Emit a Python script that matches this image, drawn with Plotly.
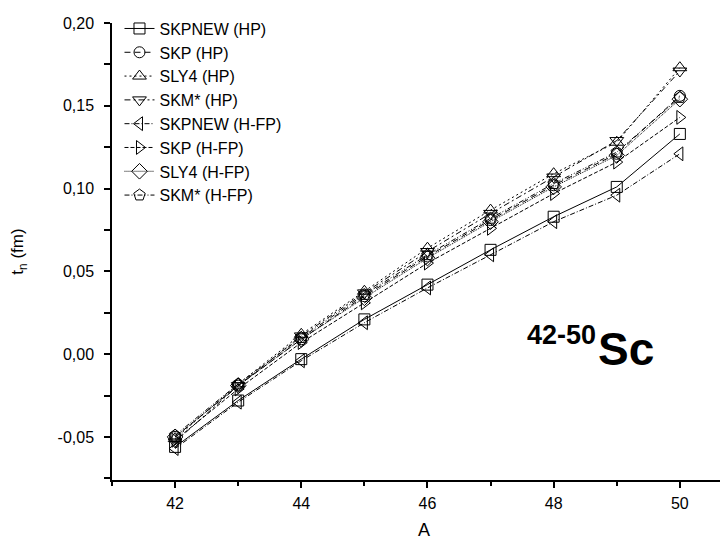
import plotly.graph_objects as go

A = [42, 43, 44, 45, 46, 47, 48, 49, 50]

skpnew_hp = [-0.056, -0.028, -0.003, 0.021, 0.042, 0.063, 0.083, 0.101, 0.133]
skp_hp = [-0.050, -0.019, 0.009, 0.035, 0.059, 0.081, 0.102, 0.121, 0.156]
sly4_hp = [-0.051, -0.018, 0.012, 0.038, 0.064, 0.087, 0.109, 0.128, 0.173]
skm_hp = [-0.053, -0.019, 0.011, 0.037, 0.062, 0.085, 0.107, 0.129, 0.171]
skpnew_hfp = [-0.057, -0.029, -0.004, 0.019, 0.040, 0.060, 0.080, 0.096, 0.121]
skp_hfp = [-0.052, -0.021, 0.007, 0.031, 0.055, 0.076, 0.097, 0.116, 0.143]
sly4_hfp = [-0.050, -0.019, 0.009, 0.034, 0.058, 0.080, 0.101, 0.120, 0.154]
skm_hfp = [-0.049, -0.018, 0.010, 0.036, 0.060, 0.082, 0.103, 0.122, 0.155]

series_names = ["SKPNEW (HP)", "SKP (HP)", "SLY4 (HP)", "SKM* (HP)",
                "SKPNEW (H-FP)", "SKP (H-FP)", "SLY4 (H-FP)", "SKM* (H-FP)"]
series_values = [skpnew_hp, skp_hp, sly4_hp, skm_hp,
                 skpnew_hfp, skp_hfp, sly4_hfp, skm_hfp]

y_tickvals = [-0.05, 0.00, 0.05, 0.10, 0.15, 0.20]
y_ticktext = ["-0,05", "0,00", "0,05", "0,10", "0,15", "0,20"]
x_tickvals = [42, 44, 46, 48, 50]
x_ticktext = ["42", "44", "46", "48", "50"]

symbols = ["square-open", "circle-open", "triangle-up-open", "triangle-down-open",
           "triangle-left-open", "triangle-right-open", "diamond-open", "pentagon-open"]
dashes = ["solid", "6px,4px", "2px,3px", "6px,3px,2px,3px",
          "5px,2px,1px,2px", "4px,2px", "1px,1px", "5px,2px,1px,2px,1px,2px"]
sizes = [11, 11, 12, 12, 12, 12, 12, 12]

FONT = "Liberation Sans, Arial, sans-serif"

fig = go.Figure()
for name, vals, sym, dash, sz in zip(series_names, series_values, symbols, dashes, sizes):
    fig.add_trace(go.Scatter(
        x=A, y=vals, name=name, legendgroup=name, mode="lines+markers",
        line=dict(color="black", width=1, dash=dash),
        marker=dict(symbol=sym, size=sz, color="black", line=dict(width=1, color="black")),
    ))

fig.update_layout(
    width=728, height=545,
    margin=dict(l=104, r=0, t=15, b=73),
    paper_bgcolor="white", plot_bgcolor="white",
    font=dict(family=FONT, size=16, color="black"),
    showlegend=True,
    legend=dict(x=0.012, y=1.025, xanchor="left", yanchor="top",
                bgcolor="rgba(0,0,0,0)", borderwidth=0,
                font=dict(family=FONT, size=16), tracegroupgap=0,
                traceorder="grouped"),
    xaxis=dict(range=[41, 50.89], tickvals=x_tickvals, ticktext=x_ticktext,
               showgrid=False, zeroline=False, showline=True, linecolor="black",
               linewidth=1.5, ticks="outside", ticklen=6, tickwidth=1.5, tickcolor="black",
               minor=dict(dtick=1, ticks="outside", ticklen=4, tickwidth=1.5, tickcolor="black"),
               title=dict(text="A", font=dict(size=18), standoff=12),
               tickfont=dict(size=16), ticklabelstandoff=2),
    yaxis=dict(range=[-0.076, 0.20], tickvals=y_tickvals, ticktext=y_ticktext,
               showgrid=False, zeroline=False, showline=True, linecolor="black",
               linewidth=1.5, ticks="outside", ticklen=6, tickwidth=1.5, tickcolor="black",
               minor=dict(tickvals=[-0.075, -0.025, 0.025, 0.075, 0.125, 0.175],
                          ticks="outside", ticklen=6, tickwidth=1.5, tickcolor="black"),
               title=dict(text="t<sub>n</sub> (fm)", font=dict(size=17), standoff=30),
               tickfont=dict(size=16), ticklabelstandoff=7),
)

fig.add_annotation(xref="paper", yref="paper", x=0.662, y=0.318,
                   xanchor="left", yanchor="middle", showarrow=False,
                   text="<b>42-50</b>", font=dict(family=FONT, size=27, color="black"))
fig.add_annotation(xref="paper", yref="paper", x=0.776, y=0.286,
                   xanchor="left", yanchor="middle", showarrow=False,
                   text="<b>Sc</b>", font=dict(family=FONT, size=46, color="black"))

fig.write_html("out.html")
